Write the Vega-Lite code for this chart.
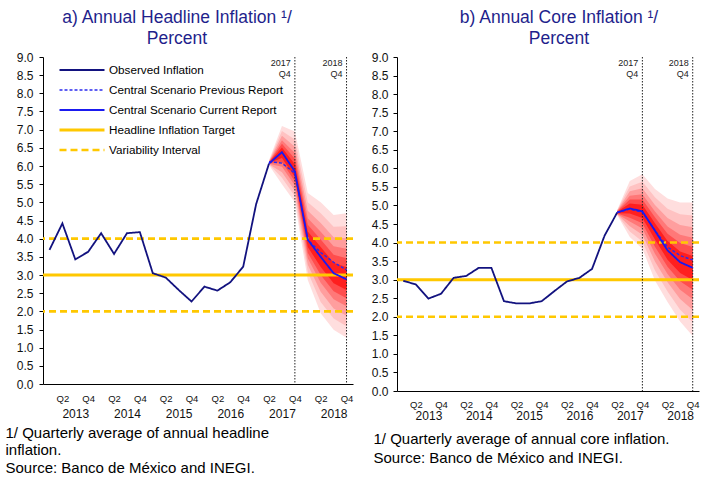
{
  "$schema": "https://vega.github.io/schema/vega-lite/v6.json",
  "padding": {"left": 5, "top": 8, "right": 0, "bottom": 0},
  "config": {
    "font": "Liberation Sans",
    "view": {"stroke": null},
    "axis": {"grid": false, "domainColor": "#000", "tickColor": "#000", "labelColor": "#111", "labelFont": "Liberation Sans", "titleFont": "Liberation Sans"},
    "legend": {"labelFont": "Liberation Sans"},
    "concat": {"spacing": 16},
    "title": {"font": "Liberation Sans"}
  },
  "hconcat": [
    {
      "width": 310,
      "height": 327,
      "title": {"text": ["a) Annual Headline Inflation ¹/", "Percent"], "fontSize": 17.5, "fontWeight": "normal", "color": "#1f1f8c", "lineHeight": 21, "offset": 4, "dx": -21, "frame": "group"},
      "resolve": {"axis": {"x": "independent", "y": "independent"}},
      "layer": [
        {
          "data": {"values": [
            {"q":17,"level":1,"lo":6.02,"hi":6.16},{"q":18,"level":1,"lo":5.50,"hi":7.10},{"q":19,"level":1,"lo":5.00,"hi":6.95},{"q":20,"level":1,"lo":2.86,"hi":5.26},{"q":21,"level":1,"lo":1.95,"hi":5.00},{"q":22,"level":1,"lo":1.49,"hi":4.65},{"q":23,"level":1,"lo":1.27,"hi":4.70},
            {"q":17,"level":2,"lo":6.04,"hi":6.14},{"q":18,"level":2,"lo":5.68,"hi":6.96},{"q":19,"level":2,"lo":5.17,"hi":6.73},{"q":20,"level":2,"lo":3.08,"hi":5.00},{"q":21,"level":2,"lo":2.26,"hi":4.70},{"q":22,"level":2,"lo":1.80,"hi":4.33},{"q":23,"level":2,"lo":1.59,"hi":4.34},
            {"q":17,"level":3,"lo":6.05,"hi":6.13},{"q":18,"level":3,"lo":5.83,"hi":6.83},{"q":19,"level":3,"lo":5.32,"hi":6.53},{"q":20,"level":3,"lo":3.28,"hi":4.77},{"q":21,"level":3,"lo":2.54,"hi":4.43},{"q":22,"level":3,"lo":2.08,"hi":4.04},{"q":23,"level":3,"lo":1.88,"hi":4.01},
            {"q":17,"level":4,"lo":6.06,"hi":6.12},{"q":18,"level":4,"lo":5.98,"hi":6.71},{"q":19,"level":4,"lo":5.46,"hi":6.36},{"q":20,"level":4,"lo":3.46,"hi":4.56},{"q":21,"level":4,"lo":2.79,"hi":4.19},{"q":22,"level":4,"lo":2.33,"hi":3.79},{"q":23,"level":4,"lo":2.14,"hi":3.72},
            {"q":17,"level":5,"lo":6.07,"hi":6.11},{"q":18,"level":5,"lo":6.10,"hi":6.61},{"q":19,"level":5,"lo":5.58,"hi":6.20},{"q":20,"level":5,"lo":3.61,"hi":4.38},{"q":21,"level":5,"lo":3.00,"hi":3.98},{"q":22,"level":5,"lo":2.55,"hi":3.56},{"q":23,"level":5,"lo":2.36,"hi":3.46},
            {"q":17,"level":6,"lo":6.08,"hi":6.10},{"q":18,"level":6,"lo":6.22,"hi":6.51},{"q":19,"level":6,"lo":5.70,"hi":6.05},{"q":20,"level":6,"lo":3.77,"hi":4.20},{"q":21,"level":6,"lo":3.22,"hi":3.77},{"q":22,"level":6,"lo":2.77,"hi":3.34},{"q":23,"level":6,"lo":2.59,"hi":3.21}
          ]},
          "mark": {"type": "area", "interpolate": "linear"},
          "encoding": {
            "x": {"field": "q", "type": "quantitative", "scale": {"domain": [-0.5, 23.5], "nice": false, "zero": false},
                  "axis": {"orient": "bottom", "values": [1,3,5,7,9,11,13,15,17,19,21,23], "labelExpr": "datum.value % 4 == 1 ? 'Q2' : 'Q4'", "ticks": false, "domain": true, "labelPadding": 9.5, "labelFontSize": 9.5, "title": null, "labelAngle": 0, "labelFlush": false, "labelOverlap": false}},
            "y": {"field": "lo", "type": "quantitative", "stack": null, "scale": {"domain": [0, 9], "nice": false, "zero": true},
                  "axis": {"orient": "left", "values": [0,0.5,1,1.5,2,2.5,3,3.5,4,4.5,5,5.5,6,6.5,7,7.5,8,8.5,9], "format": ".1f", "tickSize": 4, "labelPadding": 6, "labelFontSize": 12, "title": null, "labelOverlap": false, "labelBound": false, "labelFlush": false}},
            "y2": {"field": "hi"},
            "fill": {"field": "level", "type": "ordinal", "scale": {"domain": [1,2,3,4,5,6], "range": ["#FFDEDE", "#FFC2C2", "#FF9E9E", "#FF7878", "#FF4D4D", "#FF1F1F"]}, "legend": null}
          }
        },
        {
          "data": {"values": [
            {"v": 3, "series": "Headline Inflation Target"},
            {"v": 2, "series": "Variability Interval"},
            {"v": 4, "series": "Variability Interval"}
          ]},
          "mark": {"type": "rule"},
          "encoding": {
            "y": {"field": "v", "type": "quantitative", "axis": null},
            "color": {"field": "series", "type": "nominal", "scale": {"domain": ["Observed Inflation", "Central Scenario Previous Report", "Central Scenario Current Report", "Headline Inflation Target", "Variability Interval"], "range": ["#12127f", "#2b2bee", "#1a1af0", "#ffc800", "#ffc800"]}},
            "strokeDash": {"field": "series", "type": "nominal", "scale": {"domain": ["Observed Inflation", "Central Scenario Previous Report", "Central Scenario Current Report", "Headline Inflation Target", "Variability Interval"], "range": [[1,0],[3,2],[1,0],[1,0],[7,4]]}},
            "strokeWidth": {"field": "series", "type": "nominal", "scale": {"type": "ordinal", "domain": ["Observed Inflation", "Central Scenario Previous Report", "Central Scenario Current Report", "Headline Inflation Target", "Variability Interval"], "range": [1.8, 1.4, 1.8, 3, 2.6]}}
          }
        },
        {
          "data": {"values": [{"q": 19, "t": "2017\nQ4"}, {"q": 23, "t": "2018\nQ4"}]},
          "mark": {"type": "rule", "strokeDash": [1.5, 1.5], "color": "#222", "strokeWidth": 1},
          "encoding": {"x": {"field": "q", "type": "quantitative", "axis": null}}
        },
        {
          "data": {"values": [{"q": 19, "t": "2017\nQ4"}, {"q": 23, "t": "2018\nQ4"}]},
          "mark": {"type": "text", "align": "right", "baseline": "top", "dx": -4, "dy": 2, "fontSize": 9, "lineBreak": "\n", "color": "#222", "lineHeight": 11},
          "encoding": {"x": {"field": "q", "type": "quantitative", "axis": null}, "y": {"datum": 9, "type": "quantitative", "axis": null}, "text": {"field": "t"}}
        },
        {
          "data": {"values": [
            {"q":0,"v":3.69,"series":"Observed Inflation"},{"q":1,"v":4.42,"series":"Observed Inflation"},{"q":2,"v":3.43,"series":"Observed Inflation"},{"q":3,"v":3.64,"series":"Observed Inflation"},
            {"q":4,"v":4.15,"series":"Observed Inflation"},{"q":5,"v":3.58,"series":"Observed Inflation"},{"q":6,"v":4.15,"series":"Observed Inflation"},{"q":7,"v":4.18,"series":"Observed Inflation"},
            {"q":8,"v":3.05,"series":"Observed Inflation"},{"q":9,"v":2.93,"series":"Observed Inflation"},{"q":10,"v":2.59,"series":"Observed Inflation"},{"q":11,"v":2.27,"series":"Observed Inflation"},
            {"q":12,"v":2.68,"series":"Observed Inflation"},{"q":13,"v":2.57,"series":"Observed Inflation"},{"q":14,"v":2.80,"series":"Observed Inflation"},{"q":15,"v":3.23,"series":"Observed Inflation"},
            {"q":16,"v":4.95,"series":"Observed Inflation"},{"q":17,"v":6.07,"series":"Observed Inflation"},
            {"q":17,"v":6.12,"series":"Central Scenario Previous Report"},{"q":18,"v":6.08,"series":"Central Scenario Previous Report"},{"q":19,"v":5.80,"series":"Central Scenario Previous Report"},{"q":20,"v":3.97,"series":"Central Scenario Previous Report"},{"q":21,"v":3.62,"series":"Central Scenario Previous Report"},{"q":22,"v":3.35,"series":"Central Scenario Previous Report"},{"q":23,"v":3.14,"series":"Central Scenario Previous Report"},
            {"q":17,"v":6.07,"series":"Central Scenario Current Report"},{"q":18,"v":6.38,"series":"Central Scenario Current Report"},{"q":19,"v":5.85,"series":"Central Scenario Current Report"},{"q":20,"v":3.97,"series":"Central Scenario Current Report"},{"q":21,"v":3.50,"series":"Central Scenario Current Report"},{"q":22,"v":3.05,"series":"Central Scenario Current Report"},{"q":23,"v":2.88,"series":"Central Scenario Current Report"}
          ]},
          "mark": {"type": "line"},
          "encoding": {
            "x": {"field": "q", "type": "quantitative",
                  "axis": {"orient": "bottom", "values": [2,6,10,14,18,22], "labelExpr": "'' + (2013 + floor(datum.value / 4))", "ticks": false, "domain": false, "labelPadding": 24.5, "labelFontSize": 12, "labelColor": "#111", "labelFlush": false, "labelOverlap": false,
                           "title": ["1/ Quarterly average of annual headline", "inflation.", "Source: Banco de México and INEGI."], "titleX": -38, "titleY": 41, "titleAlign": "left", "titleAnchor": "start", "titleBaseline": "top", "titleFontSize": 15, "titleFontWeight": "normal", "titleLineHeight": 17.5, "titleColor": "#000"}},
            "y": {"field": "v", "type": "quantitative", "axis": null},
            "color": {"field": "series", "type": "nominal", "scale": {"domain": ["Observed Inflation", "Central Scenario Previous Report", "Central Scenario Current Report", "Headline Inflation Target", "Variability Interval"], "range": ["#12127f", "#2b2bee", "#1a1af0", "#ffc800", "#ffc800"]},
                      "legend": {"orient": "none", "legendX": 15, "legendY": 3, "title": null, "symbolType": "stroke", "symbolSize": 2025, "clipHeight": 20, "rowPadding": 0, "padding": 0, "labelFontSize": 11.7, "labelOffset": 3, "labelColor": "#000", "labelLimit": 400}},
            "strokeDash": {"field": "series", "type": "nominal", "scale": {"domain": ["Observed Inflation", "Central Scenario Previous Report", "Central Scenario Current Report", "Headline Inflation Target", "Variability Interval"], "range": [[1,0],[3,2],[1,0],[1,0],[7,4]]}},
            "strokeWidth": {"field": "series", "type": "nominal", "scale": {"type": "ordinal", "domain": ["Observed Inflation", "Central Scenario Previous Report", "Central Scenario Current Report", "Headline Inflation Target", "Variability Interval"], "range": [1.8, 1.4, 1.8, 3, 2.6]}}
          }
        }
      ]
    },
    {
      "width": 302,
      "height": 334,
      "title": {"text": ["b) Annual Core Inflation ¹/", "Percent"], "fontSize": 17.5, "fontWeight": "normal", "color": "#1f1f8c", "lineHeight": 21, "offset": 4, "dx": 11, "frame": "group"},
      "resolve": {"axis": {"x": "independent", "y": "independent"}},
      "layer": [
        {
          "data": {"values": [
            {"q":17,"level":1,"lo":4.74,"hi":4.88},{"q":18,"level":1,"lo":4.15,"hi":5.66},{"q":19,"level":1,"lo":3.83,"hi":5.84},{"q":20,"level":1,"lo":2.98,"hi":5.44},{"q":21,"level":1,"lo":2.40,"hi":5.19},{"q":22,"level":1,"lo":1.87,"hi":5.08},{"q":23,"level":1,"lo":1.48,"hi":5.08},
            {"q":17,"level":2,"lo":4.75,"hi":4.87},{"q":18,"level":2,"lo":4.30,"hi":5.51},{"q":19,"level":2,"lo":4.03,"hi":5.64},{"q":20,"level":2,"lo":3.25,"hi":5.22},{"q":21,"level":2,"lo":2.68,"hi":4.91},{"q":22,"level":2,"lo":2.19,"hi":4.76},{"q":23,"level":2,"lo":1.85,"hi":4.73},
            {"q":17,"level":3,"lo":4.76,"hi":4.86},{"q":18,"level":3,"lo":4.44,"hi":5.38},{"q":19,"level":3,"lo":4.21,"hi":5.46},{"q":20,"level":3,"lo":3.49,"hi":5.01},{"q":21,"level":3,"lo":2.93,"hi":4.66},{"q":22,"level":3,"lo":2.48,"hi":4.47},{"q":23,"level":3,"lo":2.18,"hi":4.41},
            {"q":17,"level":4,"lo":4.77,"hi":4.85},{"q":18,"level":4,"lo":4.57,"hi":5.26},{"q":19,"level":4,"lo":4.38,"hi":5.30},{"q":20,"level":4,"lo":3.70,"hi":4.84},{"q":21,"level":4,"lo":3.15,"hi":4.43},{"q":22,"level":4,"lo":2.73,"hi":4.21},{"q":23,"level":4,"lo":2.47,"hi":4.13},
            {"q":17,"level":5,"lo":4.78,"hi":4.84},{"q":18,"level":5,"lo":4.67,"hi":5.16},{"q":19,"level":5,"lo":4.52,"hi":5.16},{"q":20,"level":5,"lo":3.89,"hi":4.68},{"q":21,"level":5,"lo":3.35,"hi":4.24},{"q":22,"level":5,"lo":2.96,"hi":3.99},{"q":23,"level":5,"lo":2.73,"hi":3.88},
            {"q":17,"level":6,"lo":4.79,"hi":4.83},{"q":18,"level":6,"lo":4.78,"hi":5.05},{"q":19,"level":6,"lo":4.66,"hi":5.02},{"q":20,"level":6,"lo":4.08,"hi":4.52},{"q":21,"level":6,"lo":3.54,"hi":4.04},{"q":22,"level":6,"lo":3.18,"hi":3.76},{"q":23,"level":6,"lo":2.99,"hi":3.64}
          ]},
          "mark": {"type": "area", "interpolate": "linear"},
          "encoding": {
            "x": {"field": "q", "type": "quantitative", "scale": {"domain": [-0.5, 23.5], "nice": false, "zero": false},
                  "axis": {"orient": "bottom", "values": [1,3,5,7,9,11,13,15,17,19,21,23], "labelExpr": "datum.value % 4 == 1 ? 'Q2' : 'Q4'", "ticks": false, "domain": true, "labelPadding": 8.5, "labelFontSize": 9.5, "title": null, "labelAngle": 0, "labelFlush": false, "labelOverlap": false}},
            "y": {"field": "lo", "type": "quantitative", "stack": null, "scale": {"domain": [0, 9], "nice": false, "zero": true},
                  "axis": {"orient": "left", "values": [0,0.5,1,1.5,2,2.5,3,3.5,4,4.5,5,5.5,6,6.5,7,7.5,8,8.5,9], "format": ".1f", "tickSize": 4, "labelPadding": 5, "labelFontSize": 12, "title": null, "labelOverlap": false, "labelBound": false, "labelFlush": false}},
            "y2": {"field": "hi"},
            "fill": {"field": "level", "type": "ordinal", "scale": {"domain": [1,2,3,4,5,6], "range": ["#FFDEDE", "#FFC2C2", "#FF9E9E", "#FF7878", "#FF4D4D", "#FF1F1F"]}, "legend": null}
          }
        },
        {
          "data": {"values": [
            {"v": 3, "series": "Headline Inflation Target"},
            {"v": 2, "series": "Variability Interval"},
            {"v": 4, "series": "Variability Interval"}
          ]},
          "mark": {"type": "rule"},
          "encoding": {
            "y": {"field": "v", "type": "quantitative", "axis": null},
            "color": {"field": "series", "type": "nominal", "scale": {"domain": ["Observed Inflation", "Central Scenario Previous Report", "Central Scenario Current Report", "Headline Inflation Target", "Variability Interval"], "range": ["#12127f", "#2b2bee", "#1a1af0", "#ffc800", "#ffc800"]}},
            "strokeDash": {"field": "series", "type": "nominal", "scale": {"domain": ["Observed Inflation", "Central Scenario Previous Report", "Central Scenario Current Report", "Headline Inflation Target", "Variability Interval"], "range": [[1,0],[3,2],[1,0],[1,0],[7,4]]}},
            "strokeWidth": {"field": "series", "type": "nominal", "scale": {"type": "ordinal", "domain": ["Observed Inflation", "Central Scenario Previous Report", "Central Scenario Current Report", "Headline Inflation Target", "Variability Interval"], "range": [1.8, 1.4, 1.8, 3, 2.6]}}
          }
        },
        {
          "data": {"values": [{"q": 19, "t": "2017\nQ4"}, {"q": 23, "t": "2018\nQ4"}]},
          "mark": {"type": "rule", "strokeDash": [1.5, 1.5], "color": "#222", "strokeWidth": 1},
          "encoding": {"x": {"field": "q", "type": "quantitative", "axis": null}}
        },
        {
          "data": {"values": [{"q": 19, "t": "2017\nQ4"}, {"q": 23, "t": "2018\nQ4"}]},
          "mark": {"type": "text", "align": "right", "baseline": "top", "dx": -4, "dy": 2, "fontSize": 9, "lineBreak": "\n", "color": "#222", "lineHeight": 11},
          "encoding": {"x": {"field": "q", "type": "quantitative", "axis": null}, "y": {"datum": 9, "type": "quantitative", "axis": null}, "text": {"field": "t"}}
        },
        {
          "data": {"values": [
            {"q":0,"v":2.97,"series":"Observed Inflation"},{"q":1,"v":2.87,"series":"Observed Inflation"},{"q":2,"v":2.49,"series":"Observed Inflation"},{"q":3,"v":2.62,"series":"Observed Inflation"},
            {"q":4,"v":3.05,"series":"Observed Inflation"},{"q":5,"v":3.10,"series":"Observed Inflation"},{"q":6,"v":3.32,"series":"Observed Inflation"},{"q":7,"v":3.32,"series":"Observed Inflation"},
            {"q":8,"v":2.42,"series":"Observed Inflation"},{"q":9,"v":2.36,"series":"Observed Inflation"},{"q":10,"v":2.36,"series":"Observed Inflation"},{"q":11,"v":2.42,"series":"Observed Inflation"},
            {"q":12,"v":2.69,"series":"Observed Inflation"},{"q":13,"v":2.95,"series":"Observed Inflation"},{"q":14,"v":3.05,"series":"Observed Inflation"},{"q":15,"v":3.29,"series":"Observed Inflation"},
            {"q":16,"v":4.19,"series":"Observed Inflation"},{"q":17,"v":4.81,"series":"Observed Inflation"},
            {"q":17,"v":4.81,"series":"Central Scenario Previous Report"},{"q":18,"v":4.90,"series":"Central Scenario Previous Report"},{"q":19,"v":4.82,"series":"Central Scenario Previous Report"},{"q":20,"v":4.33,"series":"Central Scenario Previous Report"},{"q":21,"v":3.88,"series":"Central Scenario Previous Report"},{"q":22,"v":3.65,"series":"Central Scenario Previous Report"},{"q":23,"v":3.53,"series":"Central Scenario Previous Report"},
            {"q":17,"v":4.81,"series":"Central Scenario Current Report"},{"q":18,"v":4.92,"series":"Central Scenario Current Report"},{"q":19,"v":4.84,"series":"Central Scenario Current Report"},{"q":20,"v":4.32,"series":"Central Scenario Current Report"},{"q":21,"v":3.79,"series":"Central Scenario Current Report"},{"q":22,"v":3.47,"series":"Central Scenario Current Report"},{"q":23,"v":3.32,"series":"Central Scenario Current Report"}
          ]},
          "mark": {"type": "line"},
          "encoding": {
            "x": {"field": "q", "type": "quantitative",
                  "axis": {"orient": "bottom", "values": [2,6,10,14,18,22], "labelExpr": "'' + (2013 + floor(datum.value / 4))", "ticks": false, "domain": false, "labelPadding": 19, "labelFontSize": 12, "labelColor": "#111", "labelFlush": false, "labelOverlap": false,
                           "title": ["1/ Quarterly average of annual core inflation.", "Source: Banco de México and INEGI."], "titleX": -24, "titleY": 40.6, "titleAlign": "left", "titleAnchor": "start", "titleBaseline": "top", "titleFontSize": 15, "titleFontWeight": "normal", "titleLineHeight": 19, "titleColor": "#000"}},
            "y": {"field": "v", "type": "quantitative", "axis": null},
            "color": {"field": "series", "type": "nominal", "scale": {"domain": ["Observed Inflation", "Central Scenario Previous Report", "Central Scenario Current Report", "Headline Inflation Target", "Variability Interval"], "range": ["#12127f", "#2b2bee", "#1a1af0", "#ffc800", "#ffc800"]},
                      "legend": {"orient": "none", "legendX": 16, "legendY": 8, "title": null, "symbolType": "stroke", "symbolSize": 2025, "clipHeight": 22.5, "rowPadding": 0, "padding": 0, "labelFontSize": 11.3, "labelOffset": 3, "labelColor": "#000", "labelLimit": 400}},
            "strokeDash": {"field": "series", "type": "nominal", "scale": {"domain": ["Observed Inflation", "Central Scenario Previous Report", "Central Scenario Current Report", "Headline Inflation Target", "Variability Interval"], "range": [[1,0],[3,2],[1,0],[1,0],[7,4]]}},
            "strokeWidth": {"field": "series", "type": "nominal", "scale": {"type": "ordinal", "domain": ["Observed Inflation", "Central Scenario Previous Report", "Central Scenario Current Report", "Headline Inflation Target", "Variability Interval"], "range": [1.8, 1.4, 1.8, 3, 2.6]}}
          }
        }
      ]
    }
  ]
}
